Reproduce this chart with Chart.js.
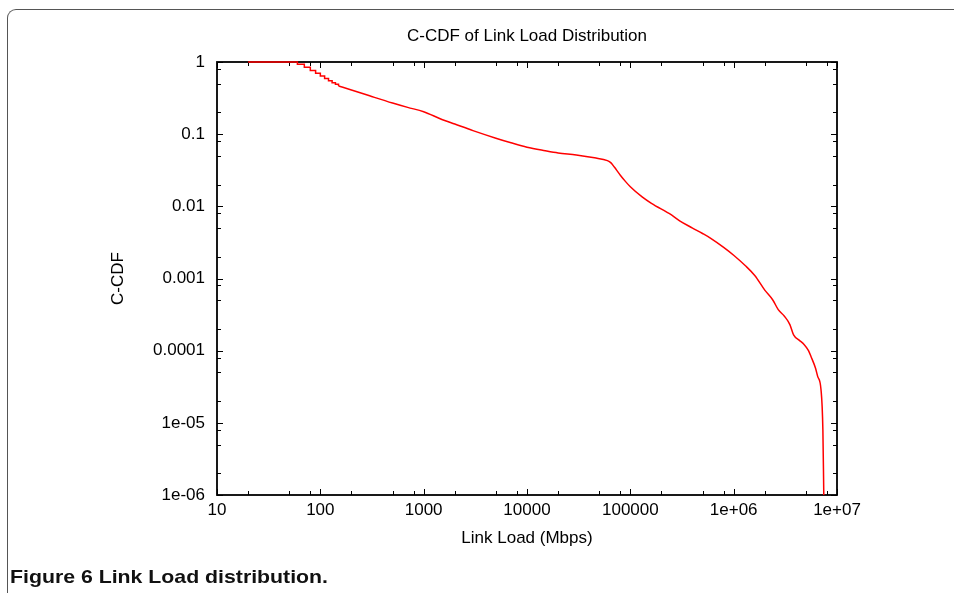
<!DOCTYPE html>
<html>
<head>
<meta charset="utf-8">
<script src="https://cdn.jsdelivr.net/npm/chart.js@4.4.1/dist/chart.umd.min.js"></script>
<style>
  html, body { margin: 0; padding: 0; background: #fff; }
  #wrap { position: relative; width: 954px; height: 593px; overflow: hidden; }
  #box {
    position: absolute; left: 7px; top: 9px; width: 1100px; height: 700px;
    border-top: 1.5px solid #555; border-left: 1.5px solid #555;
    border-top-left-radius: 9px;
  }
  #myChart { position: absolute; left: 0; top: 0; }
  #caption {
    position: absolute; left: 10px; top: 566px;
    font: bold 19px 'Liberation Sans', Arial, sans-serif; color: #111;
    transform: scaleX(1.12); transform-origin: left top; white-space: nowrap;
  }
</style>
</head>
<body>
<div id="wrap">
  <div id="box"></div>
  <canvas id="myChart" width="954" height="593"></canvas>
  <div id="caption">Figure 6 Link Load distribution.</div>
</div>
<script>
const chartTitle = 'C-CDF of Link Load Distribution';

// staircase part at low loads (Mbps, C-CDF)
const stepLoad = [20, 60, 70, 80, 90, 100, 110, 120, 130, 140, 150];
const stepCcdf = [1, 0.93, 0.845, 0.76, 0.70, 0.64, 0.59, 0.55, 0.515, 0.49, 0.465];

// rest of the curve
const load = [150, 200, 300, 500, 700, 1000, 1500, 2000, 3000, 5000, 7000, 10000, 15000, 20000,
  30000, 45000, 60000, 65000, 70000, 80000, 90000, 100000, 130000, 160000, 250000, 300000,
  400000, 500000, 600000, 800000, 1000000, 1300000, 1600000, 2000000, 2400000, 2700000,
  3100000, 3500000, 3800000, 4300000, 4800000, 5300000, 5600000, 6200000, 6500000, 7000000,
  7300000, 7450000];
const ccdf = [0.465, 0.41, 0.34, 0.27, 0.235, 0.205, 0.16, 0.138, 0.112, 0.088, 0.076, 0.066,
  0.059, 0.055, 0.0515, 0.047, 0.043, 0.040, 0.035, 0.027, 0.022, 0.0187, 0.0135, 0.011,
  0.0076, 0.0063, 0.0050, 0.0042, 0.0036, 0.0027, 0.0021, 0.0015, 0.0011, 0.00069, 0.0005,
  0.00037, 0.0003, 0.00023, 0.000166, 0.00014, 0.000122, 0.0001, 0.000083, 0.000057,
  0.000044, 0.000029, 0.000008, 0.000001];

const xMajor = [10, 100, 1000, 10000, 100000, 1000000, 10000000];
const xLabels = ['10', '100', '1000', '10000', '100000', '1e+06', '1e+07'];
const yMajor = [0.000001, 0.00001, 0.0001, 0.001, 0.01, 0.1, 1];
const yLabels = ['1e-06', '1e-05', '0.0001', '0.001', '0.01', '0.1', '1'];
const minorSteps = [2, 5, 8];

function logTicks(majors) {
  let ticks = [];
  majors.forEach((m, i) => {
    ticks.push({value: m, major: true});
    if (i < majors.length - 1) {
      minorSteps.forEach(s => ticks.push({value: m * s, major: false}));
    }
  });
  return ticks;
}

function labelFor(majors, labels, value) {
  for (let i = 0; i < majors.length; i++) {
    if (Math.abs(value / majors[i] - 1) < 1e-6) return labels[i];
  }
  return '';
}

// gnuplot style border with inward ticks on all four sides, title over the plot box
const frame = {
  id: 'frame',
  beforeDatasetsDraw(chart) {
    const {ctx, chartArea: a, scales} = chart;
    const x = scales.x, y = scales.y;
    ctx.save();
    ctx.strokeStyle = '#000';
    ctx.lineWidth = 1;
    ctx.beginPath();
    x.ticks.forEach(t => {
      const px = Math.round(x.getPixelForValue(t.value)) + 0.5;
      const len = t.major ? 6 : 4;
      ctx.moveTo(px, a.bottom); ctx.lineTo(px, a.bottom - len);
      ctx.moveTo(px, a.top); ctx.lineTo(px, a.top + len);
    });
    y.ticks.forEach(t => {
      const py = Math.round(y.getPixelForValue(t.value)) + 0.5;
      const len = t.major ? 6 : 4;
      ctx.moveTo(a.left, py); ctx.lineTo(a.left + len, py);
      ctx.moveTo(a.right, py); ctx.lineTo(a.right - len, py);
    });
    ctx.stroke();
    ctx.lineWidth = 1.8;
    ctx.strokeRect(a.left, a.top, a.right - a.left, a.bottom - a.top);

    ctx.fillStyle = '#000';
    ctx.font = "17px 'Liberation Sans', Arial, sans-serif";
    ctx.textAlign = 'center';
    ctx.textBaseline = 'middle';
    ctx.fillText(chartTitle, (a.left + a.right) / 2, 36);
    ctx.restore();
  }
};

Chart.defaults.font.family = "'Liberation Sans', Arial, sans-serif";
Chart.defaults.font.size = 17;
Chart.defaults.color = '#000';

const ctx = document.getElementById('myChart').getContext('2d');
new Chart(ctx, {
  type: 'line',
  data: {
    datasets: [{
      data: stepLoad.map((v, i) => ({x: v, y: stepCcdf[i]})),
      borderColor: '#ff0000',
      borderWidth: 1.5,
      pointRadius: 0,
      stepped: true,
      clip: 3
    }, {
      data: load.map((v, i) => ({x: v, y: ccdf[i]})),
      borderColor: '#ff0000',
      borderWidth: 1.5,
      pointRadius: 0,
      cubicInterpolationMode: 'monotone',
      clip: 3
    }]
  },
  options: {
    responsive: false,
    animation: false,
    devicePixelRatio: 1,
    layout: { padding: {left: 100, right: 117, top: 62, bottom: 38} },
    plugins: {
      legend: { display: false },
      tooltip: { enabled: false },
      title: { display: false }
    },
    scales: {
      x: {
        type: 'logarithmic',
        min: 10,
        max: 10000000,
        grid: { display: false, drawTicks: false, tickLength: 0 },
        border: { display: false },
        afterBuildTicks: axis => { axis.ticks = logTicks(xMajor); },
        afterFit: axis => { axis.height = 60; },
        ticks: {
          autoSkip: false,
          maxRotation: 0,
          padding: 5,
          callback: v => labelFor(xMajor, xLabels, v)
        },
        title: { display: true, text: 'Link Load (Mbps)', padding: {top: 0, bottom: 6.8} }
      },
      y: {
        type: 'logarithmic',
        min: 0.000001,
        max: 1,
        grid: { display: false, drawTicks: false, tickLength: 0 },
        border: { display: false },
        afterBuildTicks: axis => { axis.ticks = logTicks(yMajor); },
        afterFit: axis => { axis.width = 117; },
        ticks: {
          autoSkip: false,
          padding: 12,
          callback: v => labelFor(yMajor, yLabels, v)
        },
        title: { display: true, text: 'C-CDF', padding: {top: 7.8, bottom: 0} }
      }
    }
  },
  plugins: [frame]
});
</script>
</body>
</html>
